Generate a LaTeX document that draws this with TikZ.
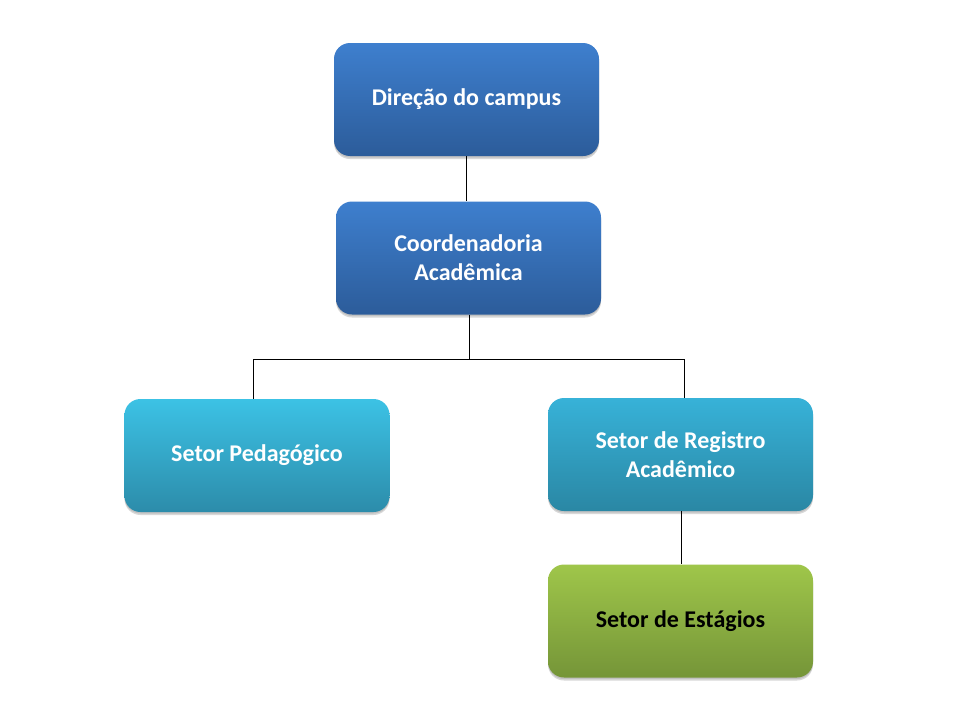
\documentclass[tikz,border=0pt]{standalone}
\usepackage{fontspec}
\setmainfont{Carlito}
\usetikzlibrary{shadows}
\definecolor{bluetop}{HTML}{3E7FCE}
\definecolor{bluebot}{HTML}{2C5C9A}
\definecolor{cyantop}{HTML}{3CC2E5}
\definecolor{cyanbot}{HTML}{2C8CAA}
\definecolor{regtop}{HTML}{37B2D8}
\definecolor{regbot}{HTML}{2A87A4}
\definecolor{greentop}{HTML}{9FC64A}
\definecolor{greenbot}{HTML}{759538}
\tikzset{
  orgbox/.style={rounded corners=16pt, minimum width=265pt, minimum height=113pt,
    align=center, font=\fontsize{24}{29}\selectfont\bfseries, text=white,
    drop shadow={shadow xshift=0pt, shadow yshift=-3pt, opacity=0.25, fill=black!60},
    drop shadow={shadow xshift=0pt, shadow yshift=-1.5pt, opacity=0.2, fill=black!60}},
  bluebox/.style={orgbox, top color=bluetop, bottom color=bluebot},
  cyanbox/.style={orgbox, top color=cyantop, bottom color=cyanbot},
  regbox/.style={orgbox, top color=regtop, bottom color=regbot},
  greenbox/.style={orgbox, top color=greentop, bottom color=greenbot, text=black},
  link/.style={draw=black, line width=0.9pt}
}
\begin{document}
\begin{tikzpicture}[x=1pt,y=-1pt]
\useasboundingbox[fill=white] (0,0) rectangle (960,720);
\node[bluebox] (dir) at (466.5,99.5) {Direção do campus};
\node[bluebox] (coord) at (468.5,258) {Coordenadoria\\Acadêmica};
\node[cyanbox] (ped) at (257,455.5) {Setor Pedagógico};
\node[regbox] (reg) at (680.5,454.5) {Setor de Registro\\Acadêmico};
\node[greenbox] (est) at (680.5,621) {Setor de Estágios};
\coordinate (hub) at (469,359);
\draw[link] (dir.south -| 466,0) -- (coord.north -| 466,0);
\draw[link] (coord.south -| hub) -- (hub);
\draw[link] (hub) -| (253,0 |- ped.north);
\draw[link] (hub) -| (684,0 |- reg.north);
\draw[link] (reg.south -| 681,0) -- (est.north -| 681,0);
\end{tikzpicture}
\end{document}
